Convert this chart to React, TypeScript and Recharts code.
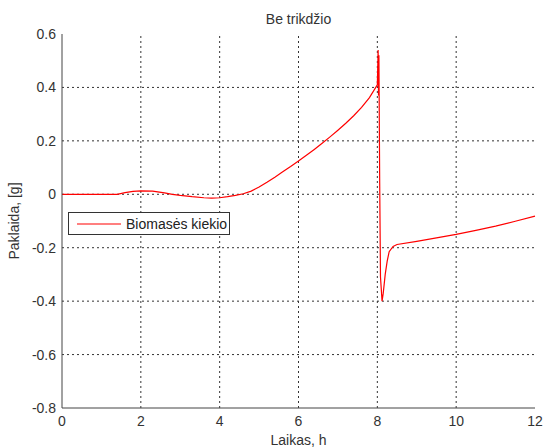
import React from 'react';
import { LineChart, Line, XAxis, YAxis, ReferenceLine, Legend } from 'recharts';

// time axis (h) and error values (g)
const timeH = [
  0, 1.0, 1.4, 1.6, 1.8, 2.0, 2.3, 2.6, 2.8, 3.0, 3.3, 3.6, 3.8, 4.0, 4.2, 4.4, 4.6, 4.8,
  5.0, 5.2, 5.4, 5.6, 5.8, 6.0, 6.2, 6.4, 6.6, 6.8, 7.0, 7.2, 7.4, 7.6, 7.8, 8.0,
  8.02, 8.03, 8.04, 8.06, 8.08, 8.12, 8.15, 8.2, 8.25, 8.3, 8.4, 8.5,
  9.0, 9.5, 10.0, 10.5, 11.0, 11.5, 12.0,
];
const errorG = [
  0, 0, 0, 0.006, 0.011, 0.013, 0.012, 0.005, 0.0, -0.004, -0.009, -0.013, -0.014, -0.013, -0.009, -0.004, 0.002, 0.012,
  0.027, 0.045, 0.064, 0.084, 0.104, 0.125, 0.146, 0.168, 0.191, 0.215, 0.24, 0.266, 0.294, 0.325, 0.362, 0.41,
  0.54, 0.37, 0.52, 0.04, -0.31, -0.4, -0.37, -0.3, -0.25, -0.215, -0.195, -0.188,
  -0.176, -0.163, -0.15, -0.135, -0.119, -0.101, -0.082,
];
const xTicks = [0, 2, 4, 6, 8, 10, 12];
const yTicks = [-0.8, -0.6, -0.4, -0.2, 0, 0.2, 0.4, 0.6];

const seriesName = 'Biomasės kiekio';
const chartTitle = 'Be trikdžio';
const xLabel = 'Laikas, h';
const yLabel = 'Paklaida, [g]';

const rows = timeH.map((t, i) => ({ t, err: errorG[i] }));

const font = 'Arial, "Liberation Sans", sans-serif';
const axisColor = '#444';
const gridColor = '#333';
const textColor = '#333';
const tickStyle = { fontSize: 14, fill: textColor, fontFamily: font };

const LegendBox = ({ payload }: any) => {
  const item = payload && payload[0];
  if (!item) return null;
  return (
    <div
      style={{
        width: 162,
        height: 23,
        boxSizing: 'border-box',
        border: '1px solid #333',
        background: '#fff',
        display: 'flex',
        alignItems: 'center',
        paddingLeft: 8,
      }}
    >
      <svg width={44} height={10}>
        <line x1={0} y1={5} x2={44} y2={5} stroke={item.color} strokeWidth={1.2} />
      </svg>
      <span style={{ marginLeft: 5, fontSize: 14, fontFamily: font, color: '#222' }}>{item.value}</span>
    </div>
  );
};

export default function App() {
  return (
    <div style={{ position: 'fixed', left: 0, top: 0, width: 544, height: 448, background: '#fff' }}>
      <div
        style={{
          position: 'absolute',
          left: 62,
          width: 473,
          top: 11,
          textAlign: 'center',
          fontSize: 14,
          fontFamily: font,
          color: textColor,
          lineHeight: '16px',
        }}
      >
        {chartTitle}
      </div>
      <LineChart width={544} height={448} data={rows} margin={{ top: 34, right: 9, left: 0, bottom: 0 }}>
        <XAxis
          xAxisId="bottom"
          dataKey="t"
          type="number"
          domain={[0, 12]}
          ticks={xTicks}
          interval={0}
          height={40}
          tick={tickStyle}
          tickLine={false}
          tickSize={6}
          tickMargin={2}
          axisLine={{ stroke: axisColor }}
          label={{
            content: ({ viewBox }: any) => (
              <text
                x={viewBox.x + viewBox.width / 2}
                y={viewBox.y + viewBox.height - 3}
                textAnchor="middle"
                fontSize={14}
                fontFamily={font}
                fill={textColor}
              >
                {xLabel}
              </text>
            ),
          }}
        />
        <XAxis
          xAxisId="top"
          dataKey="t"
          type="number"
          orientation="top"
          domain={[0, 12]}
          ticks={xTicks}
          height={0}
          tick={false}
          tickLine={false}
          axisLine={{ stroke: axisColor }}
        />
        <YAxis
          yAxisId="left"
          type="number"
          domain={[-0.8, 0.6]}
          ticks={yTicks}
          interval={0}
          width={62}
          tick={tickStyle}
          tickLine={false}
          tickSize={4}
          tickMargin={2}
          axisLine={{ stroke: axisColor }}
          allowDataOverflow
          label={{
            content: ({ viewBox }: any) => {
              const cx = 14;
              const cy = viewBox.y + viewBox.height / 2;
              return (
                <text
                  x={cx}
                  y={cy}
                  transform={`rotate(-90 ${cx} ${cy})`}
                  textAnchor="middle"
                  dominantBaseline="central"
                  fontSize={14}
                  fontFamily={font}
                  fill={textColor}
                >
                  {yLabel}
                </text>
              );
            },
          }}
        />
        <YAxis
          yAxisId="right"
          orientation="right"
          type="number"
          domain={[-0.8, 0.6]}
          ticks={yTicks}
          width={0}
          tick={false}
          tickLine={false}
          axisLine={{ stroke: axisColor }}
        />
        {xTicks.slice(1, -1).map((t) => (
          <ReferenceLine
            key={`vx-${t}`}
            x={t}
            xAxisId="bottom"
            yAxisId="left"
            stroke={gridColor}
            strokeDasharray="2 3"
          />
        ))}
        {yTicks.slice(1, -1).map((v) => (
          <ReferenceLine
            key={`hy-${v}`}
            y={v}
            xAxisId="bottom"
            yAxisId="left"
            stroke={gridColor}
            strokeDasharray="2 3"
          />
        ))}
        <Legend
          layout="horizontal"
          verticalAlign="middle"
          align="center"
          content={<LegendBox />}
          wrapperStyle={{ left: 68, top: 212, width: 162 }}
        />
        <Line
          xAxisId="bottom"
          yAxisId="left"
          type="linear"
          dataKey="err"
          name={seriesName}
          stroke="#ff0000"
          strokeWidth={1.2}
          dot={false}
          activeDot={false}
          isAnimationActive={false}
        />
      </LineChart>
    </div>
  );
}
